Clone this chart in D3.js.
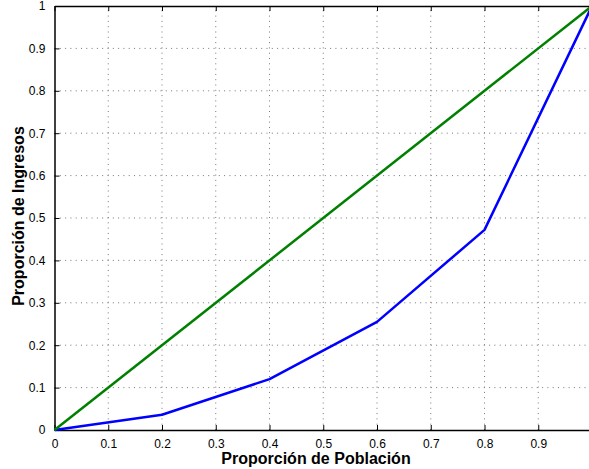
<!DOCTYPE html>
<html>
<head>
<meta charset="utf-8">
<script src="https://cdn.jsdelivr.net/npm/d3@7"></script>
<style>
  body { margin: 0; background: #fff; overflow: hidden; }
  svg { display: block; font-family: "Liberation Sans", Arial, sans-serif; }
</style>
</head>
<body>
<div id="chart"></div>
<script>
// population share (x) and income share (y)
var poblacion = [0, 0.2, 0.4, 0.6, 0.8, 1.0];
var ingresos  = [0, 0.036, 0.12, 0.255, 0.472, 1.0];
var igualdad  = [0, 1.0];
var xTicks = [0, 0.1, 0.2, 0.3, 0.4, 0.5, 0.6, 0.7, 0.8, 0.9];
var yTicks = [0, 0.1, 0.2, 0.3, 0.4, 0.5, 0.6, 0.7, 0.8, 0.9, 1];

var width = 589, height = 469;
var margin = {top: 6, right: -3, bottom: 39, left: 54.5};

var x = d3.scaleLinear().domain([0, 1]).range([margin.left, width - margin.right]);
var y = d3.scaleLinear().domain([0, 1]).range([height - margin.bottom, margin.top]);

var svg = d3.select("#chart").append("svg")
  .attr("width", width)
  .attr("height", height);

// dotted grid
var grid = svg.append("g").attr("class", "grid");
grid.selectAll("line.gx")
  .data(xTicks.filter(function(d){ return d > 0; }))
  .enter().append("line")
  .attr("x1", function(d){ return x(d); })
  .attr("x2", function(d){ return x(d); })
  .attr("y1", y(0)).attr("y2", y(1))
  .attr("stroke", "#777").attr("stroke-width", 1)
  .attr("stroke-dasharray", "1,4.3");
grid.selectAll("line.gy")
  .data(yTicks.filter(function(d){ return d > 0 && d < 1; }))
  .enter().append("line")
  .attr("y1", function(d){ return y(d); })
  .attr("y2", function(d){ return y(d); })
  .attr("x1", x(0)).attr("x2", x(1))
  .attr("stroke", "#777").attr("stroke-width", 1)
  .attr("stroke-dasharray", "1,4.3");

// axes (matlab style, ticks inside)
var xAxis = d3.axisBottom(x).tickValues(xTicks).tickSizeInner(-5).tickSizeOuter(0).tickPadding(9)
  .tickFormat(function(d){ return d3.format("")(d); });
var xAxisTop = d3.axisTop(x).tickValues(xTicks).tickSizeInner(-5).tickSizeOuter(0).tickFormat("");
var yAxis = d3.axisLeft(y).tickValues(yTicks).tickSizeInner(-5).tickSizeOuter(0).tickPadding(9)
  .tickFormat(function(d){ return d3.format("")(d); });

function styleAxis(g) {
  g.select(".domain").attr("stroke", "#000").attr("stroke-width", 1.5);
  g.selectAll(".tick line").attr("stroke", "#000").attr("stroke-width", 1);
  g.selectAll(".tick text").attr("fill", "#000").style("font-size", "12px");
}

svg.append("g")
  .attr("transform", "translate(0," + y(0) + ")")
  .call(xAxis).call(styleAxis);
svg.append("g")
  .attr("transform", "translate(0," + y(1) + ")")
  .call(xAxisTop).call(styleAxis);
svg.append("g")
  .attr("transform", "translate(" + x(0) + ",0)")
  .call(yAxis).call(styleAxis);

// lines
var line = d3.line()
  .x(function(d){ return x(d[0]); })
  .y(function(d){ return y(d[1]); });

svg.append("path")
  .datum(d3.zip(poblacion, ingresos))
  .attr("fill", "none")
  .attr("stroke", "#0000ff")
  .attr("stroke-width", 2.5)
  .attr("stroke-linejoin", "round")
  .attr("d", line);

svg.append("path")
  .datum(d3.zip(igualdad, igualdad))
  .attr("fill", "none")
  .attr("stroke", "#008000")
  .attr("stroke-width", 2.5)
  .attr("d", line);

// axis titles
svg.append("text")
  .attr("x", 316)
  .attr("y", 464)
  .attr("text-anchor", "middle")
  .style("font-size", "16px")
  .style("font-weight", "bold")
  .text("Proporción de Población");

svg.append("text")
  .attr("transform", "translate(24," + 216 + ") rotate(-90)")
  .attr("text-anchor", "middle")
  .style("font-size", "16px")
  .style("font-weight", "bold")
  .text("Proporción de Ingresos");
</script>
</body>
</html>
